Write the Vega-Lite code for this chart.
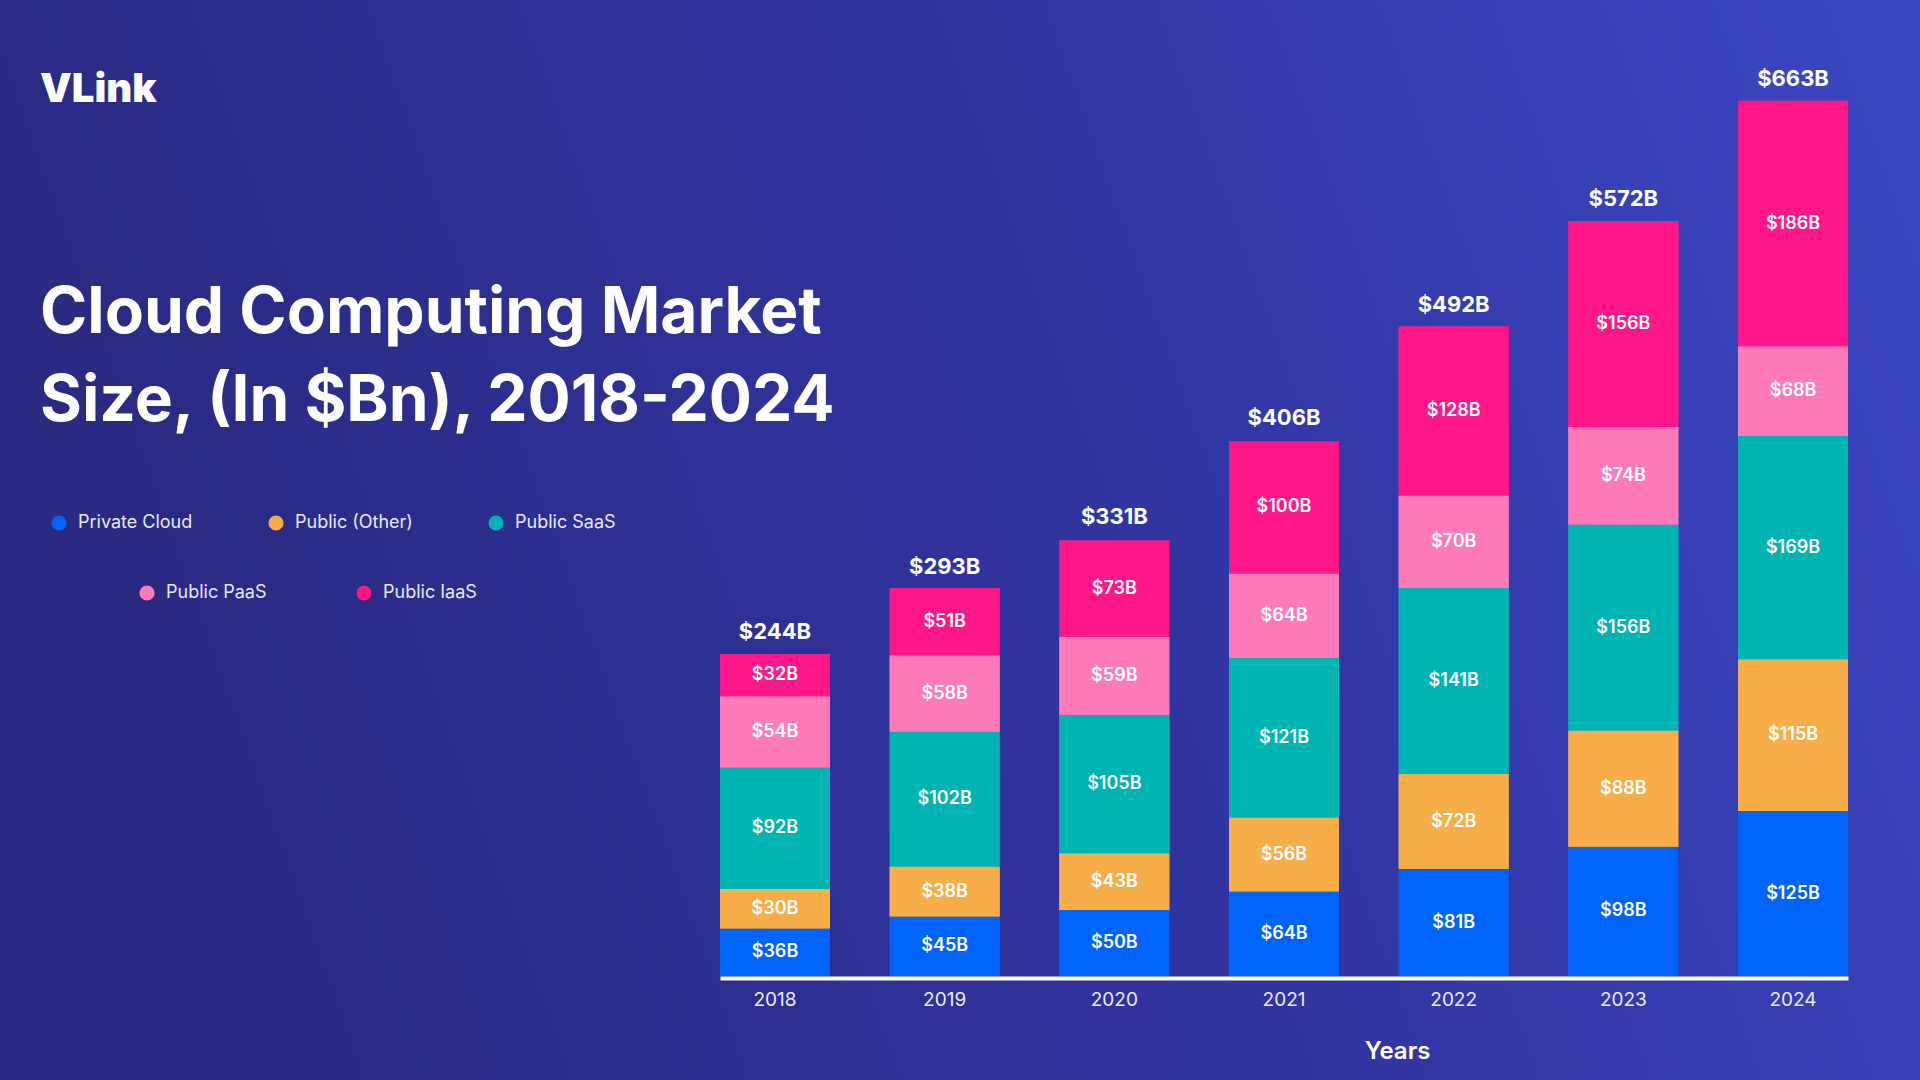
{
  "$schema": "https://vega.github.io/schema/vega-lite/v6.json",
  "width": 1920,
  "height": 1080,
  "autosize": "none",
  "padding": 0,
  "background": "#2d2f90",
  "config": {
    "view": {"stroke": null},
    "font": "Inter"
  },
  "title": {
    "text": "VLink",
    "subtitle": ["Cloud Computing Market", "Size, (In $Bn), 2018-2024"],
    "anchor": "start",
    "frame": "group",
    "orient": "top",
    "offset": -434,
    "dx": 40,
    "font": "Inter",
    "fontSize": 40,
    "fontWeight": 900,
    "color": "#ffffff",
    "subtitleFont": "Inter",
    "subtitleFontSize": 64,
    "subtitleFontWeight": 700,
    "subtitleColor": "#ffffff",
    "subtitleLineHeight": 88,
    "subtitlePadding": 172
  },
  "datasets": {
    "bg": [{"name": "background"}],
    "segments": [
      {"year": "2018", "segment": "Private Cloud", "value": 36},
      {"year": "2018", "segment": "Public (Other)", "value": 30},
      {"year": "2018", "segment": "Public SaaS", "value": 92},
      {"year": "2018", "segment": "Public PaaS", "value": 54},
      {"year": "2018", "segment": "Public IaaS", "value": 32},
      {"year": "2019", "segment": "Private Cloud", "value": 45},
      {"year": "2019", "segment": "Public (Other)", "value": 38},
      {"year": "2019", "segment": "Public SaaS", "value": 102},
      {"year": "2019", "segment": "Public PaaS", "value": 58},
      {"year": "2019", "segment": "Public IaaS", "value": 51},
      {"year": "2020", "segment": "Private Cloud", "value": 50},
      {"year": "2020", "segment": "Public (Other)", "value": 43},
      {"year": "2020", "segment": "Public SaaS", "value": 105},
      {"year": "2020", "segment": "Public PaaS", "value": 59},
      {"year": "2020", "segment": "Public IaaS", "value": 73},
      {"year": "2021", "segment": "Private Cloud", "value": 64},
      {"year": "2021", "segment": "Public (Other)", "value": 56},
      {"year": "2021", "segment": "Public SaaS", "value": 121},
      {"year": "2021", "segment": "Public PaaS", "value": 64},
      {"year": "2021", "segment": "Public IaaS", "value": 100},
      {"year": "2022", "segment": "Private Cloud", "value": 81},
      {"year": "2022", "segment": "Public (Other)", "value": 72},
      {"year": "2022", "segment": "Public SaaS", "value": 141},
      {"year": "2022", "segment": "Public PaaS", "value": 70},
      {"year": "2022", "segment": "Public IaaS", "value": 128},
      {"year": "2023", "segment": "Private Cloud", "value": 98},
      {"year": "2023", "segment": "Public (Other)", "value": 88},
      {"year": "2023", "segment": "Public SaaS", "value": 156},
      {"year": "2023", "segment": "Public PaaS", "value": 74},
      {"year": "2023", "segment": "Public IaaS", "value": 156},
      {"year": "2024", "segment": "Private Cloud", "value": 125},
      {"year": "2024", "segment": "Public (Other)", "value": 115},
      {"year": "2024", "segment": "Public SaaS", "value": 169},
      {"year": "2024", "segment": "Public PaaS", "value": 68},
      {"year": "2024", "segment": "Public IaaS", "value": 186}
    ],
    "totals": [
      {"year": "2018", "total": 244},
      {"year": "2019", "total": 293},
      {"year": "2020", "total": 331},
      {"year": "2021", "total": 406},
      {"year": "2022", "total": 492},
      {"year": "2023", "total": 572},
      {"year": "2024", "total": 663}
    ]
  },
  "layer": [
    {
      "data": {"name": "bg"},
      "mark": {
        "type": "rect",
        "color": {
          "gradient": "linear",
          "x1": 0, "y1": 0.2, "x2": 1, "y2": 0,
          "stops": [
            {"offset": 0, "color": "#2a2a83"},
            {"offset": 0.5, "color": "#3034a0"},
            {"offset": 1, "color": "#3c47c3"}
          ]
        }
      },
      "encoding": {}
    },
    {
      "data": {"name": "segments"},
      "transform": [
        {"calculate": "indexof(['Private Cloud','Public (Other)','Public SaaS','Public PaaS','Public IaaS'], datum.segment)", "as": "rank"},
        {"stack": "value", "groupby": ["year"], "sort": [{"field": "rank", "order": "ascending"}], "as": ["v0", "v1"]},
        {"calculate": "(datum.v0 + datum.v1) / 2", "as": "vmid"},
        {"calculate": "'$' + datum.value + 'B'", "as": "label"},
        {"calculate": "datum.segment", "as": "segment_row2"}
      ],
      "encoding": {
        "x": {
          "field": "year",
          "type": "ordinal",
          "scale": {"range": [720, 1848], "paddingInner": 0.352, "paddingOuter": 0},
          "axis": {
            "orient": "bottom",
            "offset": -102,
            "zindex": 2,
            "domain": true,
            "domainColor": "#ffffff",
            "domainWidth": 4,
            "ticks": false,
            "grid": false,
            "labelAngle": 0,
            "labelFont": "Inter",
            "labelFontSize": 19,
            "labelColor": "#ebebf5",
            "labelPadding": 12,
            "title": "Years",
            "titleFont": "Inter",
            "titleFontSize": 24,
            "titleFontWeight": 600,
            "titleColor": "#ffffff",
            "titleX": 1397,
            "titleY": 73,
            "titleAlign": "center",
            "titleBaseline": "middle"
          }
        },
        "y": {
          "field": "v1",
          "type": "quantitative",
          "scale": {"domain": [0, 700], "range": [976, 52], "nice": false, "zero": true},
          "axis": null
        }
      },
      "layer": [
        {
          "mark": {"type": "bar"},
          "encoding": {
            "y2": {"field": "v0"},
            "color": {
              "field": "segment",
              "type": "nominal",
              "scale": {
                "domain": ["Private Cloud", "Public (Other)", "Public SaaS", "Public PaaS", "Public IaaS"],
                "range": ["#0064fa", "#f7ad48", "#00b4b4", "#ff7ab9", "#ff1689"]
              },
              "legend": {
                "values": ["Private Cloud", "Public (Other)", "Public SaaS"],
                "orient": "none",
                "legendX": 50,
                "legendY": 514,
                "direction": "horizontal",
                "title": null,
                "symbolType": "circle",
                "symbolSize": 230,
                "symbolStrokeWidth": 0,
                "labelFont": "Inter",
                "labelFontSize": 18,
                "labelColor": "#e8e8f4",
                "labelOffset": 10,
                "columnPadding": 74,
                "padding": 0
              }
            }
          }
        },
        {
          "mark": {"type": "bar"},
          "encoding": {
            "y2": {"field": "v0"},
            "fill": {
              "field": "segment_row2",
              "type": "nominal",
              "scale": {
                "domain": ["Public PaaS", "Public IaaS", "Private Cloud", "Public (Other)", "Public SaaS"],
                "range": ["#ff7ab9", "#ff1689", "#0064fa", "#f7ad48", "#00b4b4"]
              },
              "legend": {
                "values": ["Public PaaS", "Public IaaS"],
                "orient": "none",
                "legendX": 138,
                "legendY": 584,
                "direction": "horizontal",
                "title": null,
                "symbolType": "circle",
                "symbolSize": 230,
                "symbolStrokeWidth": 0,
                "labelFont": "Inter",
                "labelFontSize": 18,
                "labelColor": "#e8e8f4",
                "labelOffset": 10,
                "columnPadding": 88,
                "padding": 0
              }
            }
          }
        },
        {
          "mark": {"type": "text", "font": "Inter", "fontSize": 18, "fontWeight": 600, "color": "#ffffff", "baseline": "middle", "align": "center"},
          "encoding": {
            "y": {"field": "vmid", "type": "quantitative"},
            "text": {"field": "label"}
          }
        }
      ]
    },
    {
      "data": {"name": "totals"},
      "transform": [
        {"calculate": "'$' + datum.total + 'B'", "as": "label"}
      ],
      "mark": {"type": "text", "font": "Inter", "fontSize": 22, "fontWeight": 700, "color": "#ffffff", "baseline": "bottom", "align": "center", "dy": -10},
      "encoding": {
        "x": {"field": "year", "type": "ordinal"},
        "y": {"field": "total", "type": "quantitative"},
        "text": {"field": "label"}
      }
    }
  ]
}
